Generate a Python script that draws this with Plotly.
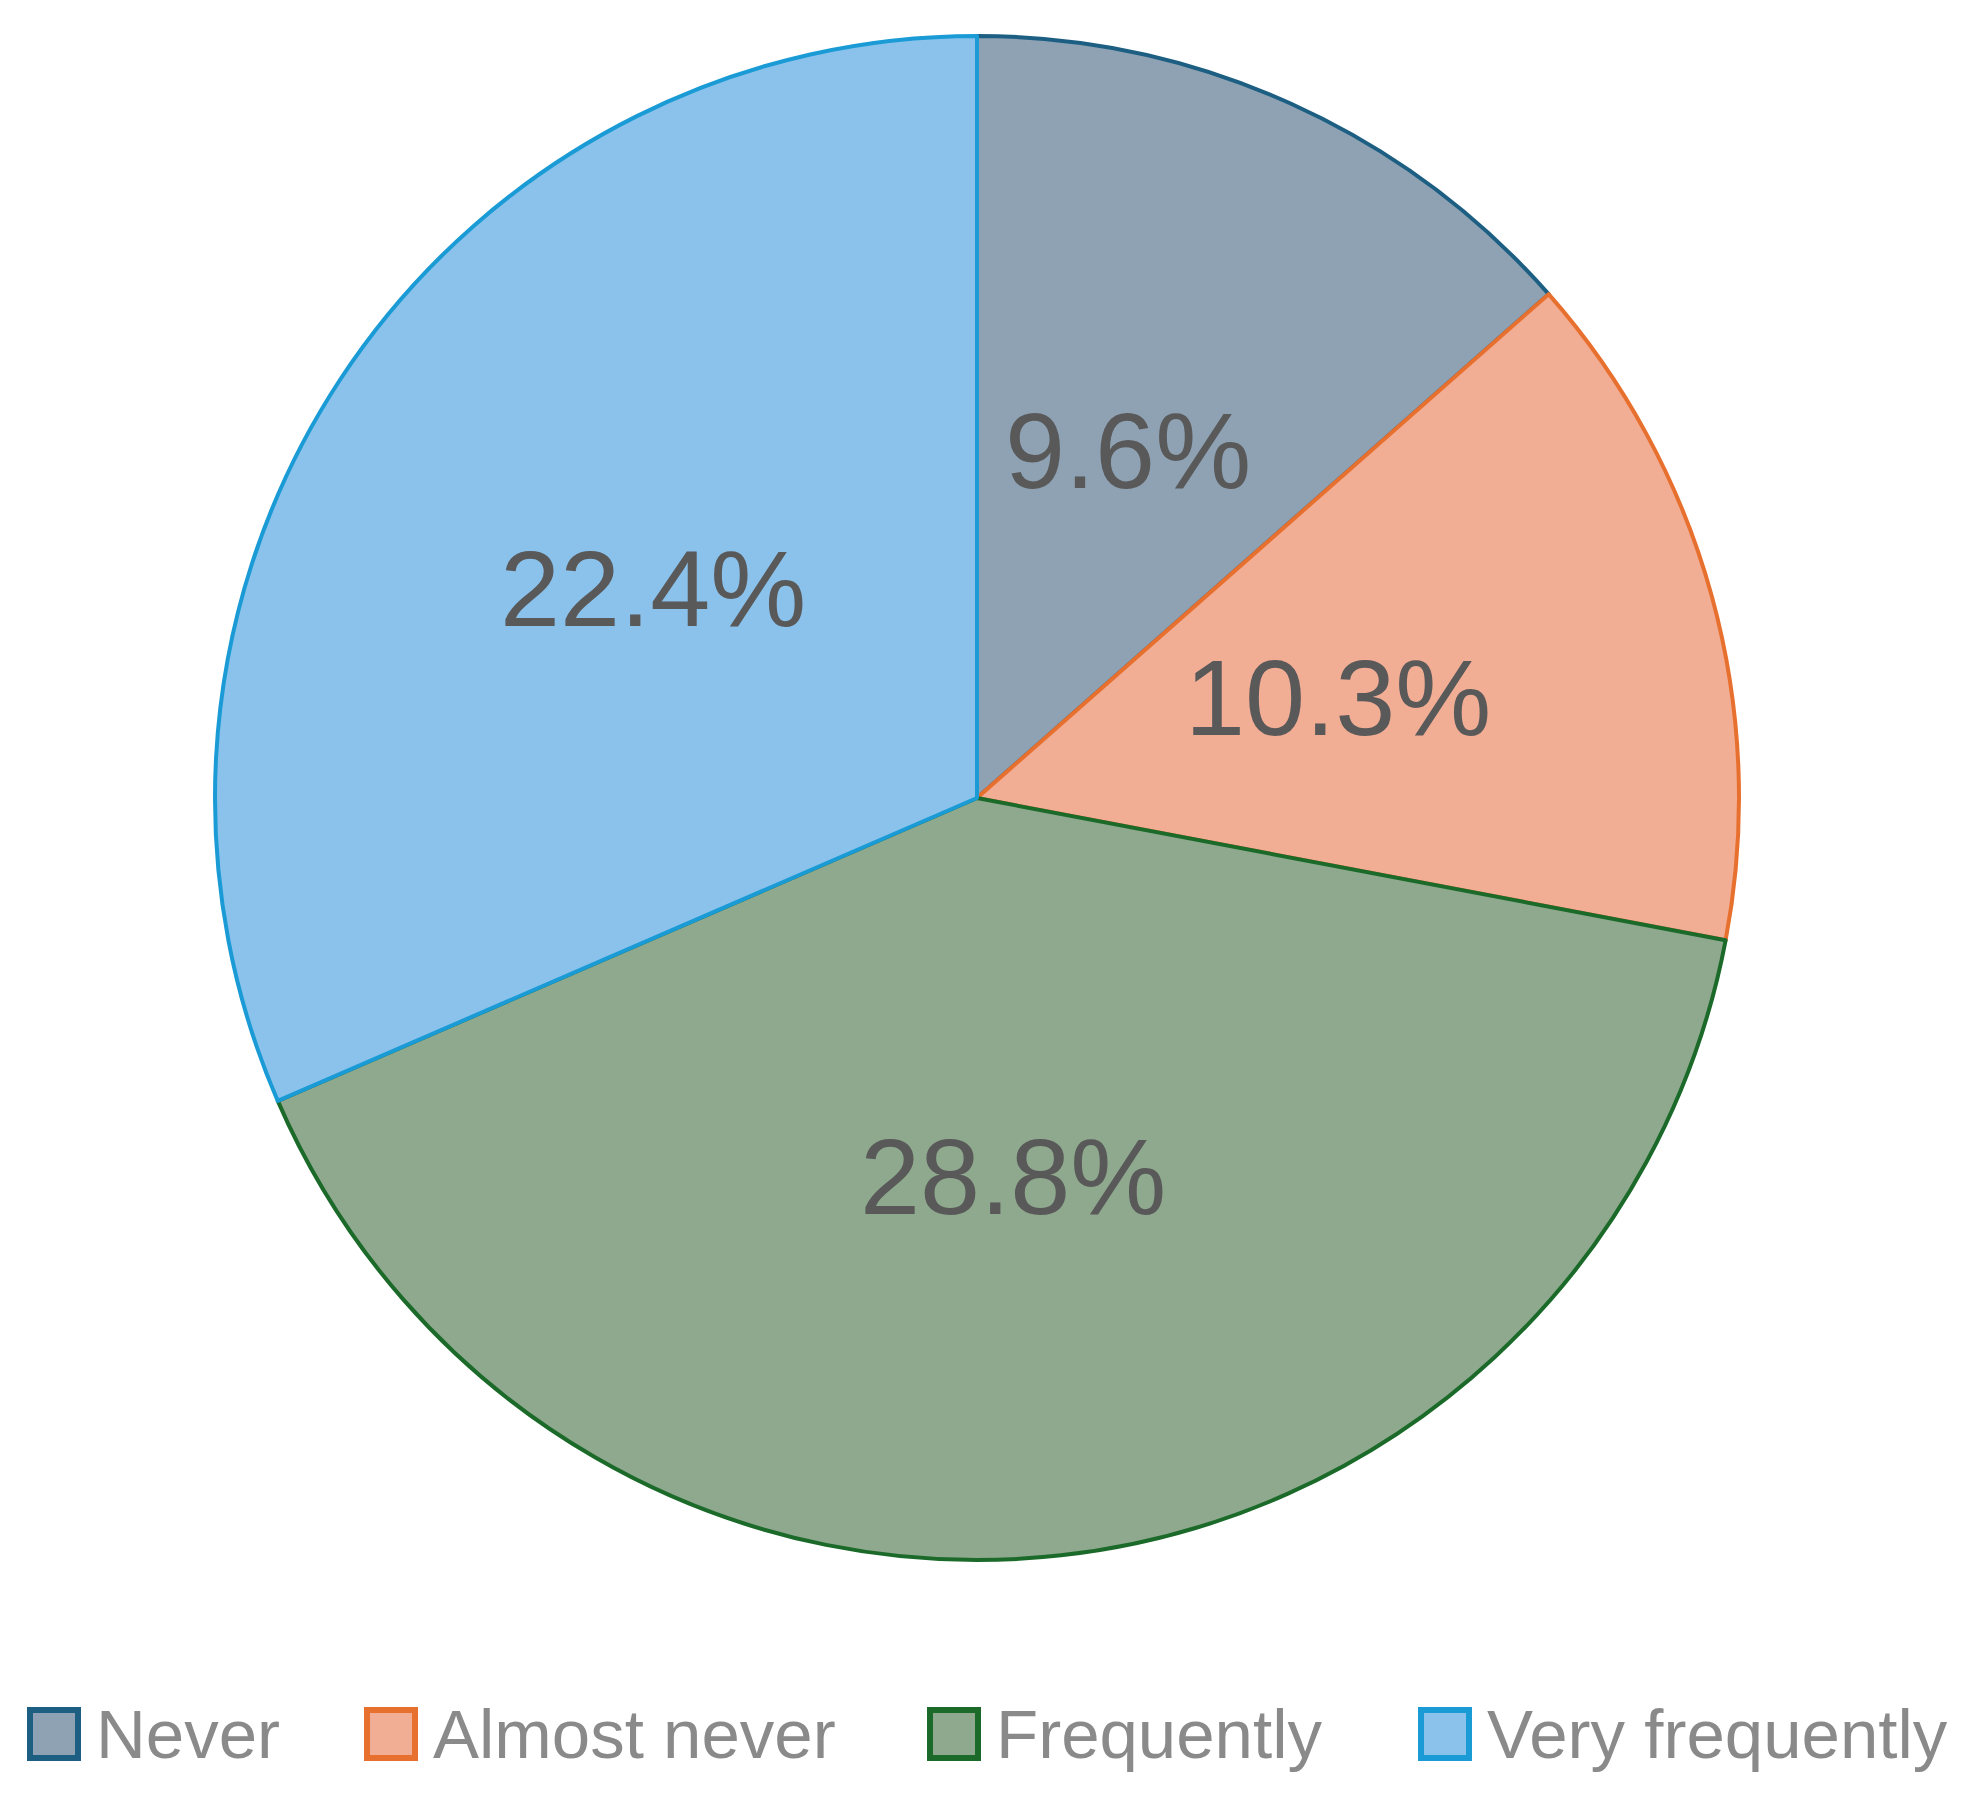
import math
import plotly.graph_objects as go

# data
categories = ["Never", "Almost never", "Frequently", "Very frequently"]
values = [9.6, 10.3, 28.8, 22.4]

fill_colors = ["#8ea2b4", "#f2ad95", "#8fa98e", "#8bc2ec"]
line_colors = ["#1d5f82", "#e8702e", "#1b6a2a", "#1a9bd5"]

W, H = 1974, 1800
cx, cy, r = 969, 790, 762

fig = go.Figure()

fig.add_trace(go.Pie(
    labels=categories,
    values=values,
    sort=False,
    direction="clockwise",
    rotation=0,
    textinfo="none",
    marker=dict(colors=fill_colors, line=dict(color=line_colors, width=4)),
    hoverinfo="label+value",
    showlegend=False,
    domain=dict(x=[(cx - r) / W, (cx + r) / W], y=[1 - (cy + r) / H, 1 - (cy - r) / H]),
))

annotations = []

# value labels halfway out along each slice's bisector
total = sum(values)
start = 0.0
for v in values:
    mid = (start + v / 2) / total * 2 * math.pi
    start += v
    annotations.append(dict(
        xref="paper", yref="paper",
        x=(cx + 0.5 * r * math.sin(mid) - 6) / W,
        y=1 - (cy - 0.5 * r * math.cos(mid)) / H,
        xanchor="center", yanchor="middle", showarrow=False,
        text=f"{v}%",
        font=dict(family="Liberation Sans, Arial, sans-serif", size=108, color="#595959"),
    ))

# custom legend with big square keys
legend_x = [22, 359, 922, 1413]
key_w, key_h, legend_y = 48, 48, 1726
shapes = []
for name, fc, lc, x in zip(categories, fill_colors, line_colors, legend_x):
    shapes.append(dict(
        type="rect", xref="paper", yref="paper",
        x0=x / W, x1=(x + key_w) / W,
        y0=1 - (legend_y + key_h / 2) / H, y1=1 - (legend_y - key_h / 2) / H,
        fillcolor=fc, line=dict(color=lc, width=6),
    ))
    annotations.append(dict(
        xref="paper", yref="paper", x=(x + key_w + 16) / W, y=1 - legend_y / H,
        xanchor="left", yanchor="middle", showarrow=False, text=name,
        font=dict(family="Liberation Sans, Arial, sans-serif", size=69, color="#8a8a8a"),
    ))

fig.update_layout(
    width=W, height=H,
    margin=dict(l=0, r=0, t=0, b=0),
    paper_bgcolor="white",
    plot_bgcolor="white",
    shapes=shapes,
    annotations=annotations,
)

fig.write_html("out.html")
